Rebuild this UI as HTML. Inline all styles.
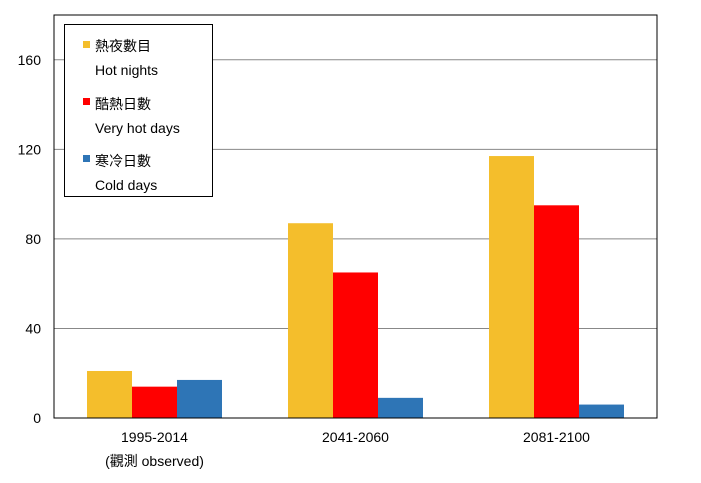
<!DOCTYPE html>
<html><head><meta charset="utf-8"><style>
body{margin:0;background:#fff}
svg text{font-family:"Liberation Sans","Noto Sans CJK TC",sans-serif;font-size:14px;fill:#000}
</style></head><body>
<svg width="701" height="478" xmlns="http://www.w3.org/2000/svg">
<g id="grid"></g>
<g id="bars"></g>
<rect x="54" y="15" width="603" height="403" fill="none" stroke="#000" stroke-width="1"/>
<g id="yt"></g>
<g id="xt"></g>
<g>
<rect x="64.5" y="24.5" width="148" height="172" fill="#fff" stroke="#000"/>
<rect x="83" y="41" width="7" height="7" fill="#F4BE2C"/>
<text x="95" y="51">熱夜數目</text>
<text x="95" y="75">Hot nights</text>
<rect x="83" y="98" width="7" height="7" fill="#FF0000"/>
<text x="95" y="109">酷熱日數</text>
<text x="95" y="133">Very hot days</text>
<rect x="83" y="155" width="7" height="7" fill="#2E75B6"/>
<text x="95" y="166">寒冷日數</text>
<text x="95" y="190">Cold days</text>
</g>
</svg>
<script>
const categories=["1995-2014","2041-2060","2081-2100"];
const hotNights=[21,87,117];
const veryHotDays=[14,65,95];
const coldDays=[17,9,6];
const yTicks=[0,40,80,120,160];
const seriesColors=["#F4BE2C","#FF0000","#2E75B6"];
const seriesNames=["hot-nights","very-hot-days","cold-days"];
const NS="http://www.w3.org/2000/svg";
const L=54,R=657,T=15,B=418,YMAX=180;
const y=v=>B-(v/YMAX)*(B-T);
const gw=(R-L)/categories.length;
const xc=i=>L+gw*(i+0.5);
const bw=45;
function mk(tag,at,parent){const e=document.createElementNS(NS,tag);for(const k in at)e.setAttribute(k,at[k]);document.getElementById(parent).appendChild(e);return e;}
yTicks.forEach(t=>{
  if(t>0){const g=mk("line",{x1:L,x2:R,y1:y(t),y2:y(t),stroke:"#888","stroke-width":1},"grid");
  
  }
  const tx=mk("text",{x:L-13,y:y(t)+5,"text-anchor":"end"},"yt");tx.textContent=t;
  
  
});
[hotNights,veryHotDays,coldDays].forEach((s,si)=>{
  s.forEach((v,i)=>{
    const x0=xc(i)-1.5*bw+si*bw;
    const r=mk("rect",{x:x0,y:y(v),width:bw,height:B-y(v),fill:seriesColors[si]},"bars");
    
    
  });
});
categories.forEach((c,i)=>{
  const t=mk("text",{x:xc(i),y:442,"text-anchor":"middle"},"xt");t.textContent=c;
  
  
});
const o=mk("text",{x:xc(0),y:466,"text-anchor":"middle"},"xt");o.textContent="(觀測 observed)";


</script>
</body></html>
